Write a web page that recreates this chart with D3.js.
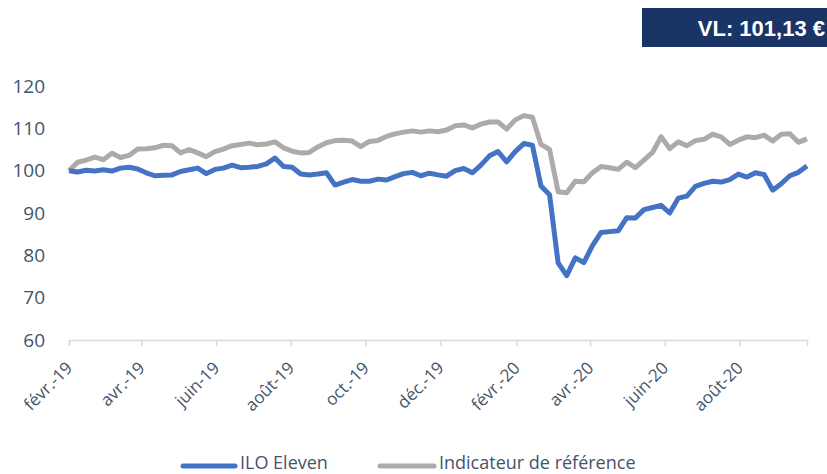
<!DOCTYPE html>
<html>
<head>
<meta charset="utf-8">
<script src="https://cdnjs.cloudflare.com/ajax/libs/d3/7.8.5/d3.min.js"></script>
<style>
  body { margin: 0; background: #fff; }
  text { font-family: 'Open Sans', sans-serif; }
</style>
</head>
<body>
<div id="chart"></div>
<script>
// weekly dates (Fridays)
const dates = [
  '2019-02-01','2019-02-08','2019-02-15','2019-02-22','2019-03-01','2019-03-08','2019-03-15','2019-03-22','2019-03-29',
  '2019-04-05','2019-04-12','2019-04-19','2019-04-26','2019-05-03','2019-05-10','2019-05-17','2019-05-24','2019-05-31',
  '2019-06-07','2019-06-14','2019-06-21','2019-06-28','2019-07-05','2019-07-12','2019-07-19','2019-07-26',
  '2019-08-02','2019-08-09','2019-08-16','2019-08-23','2019-08-30','2019-09-06','2019-09-13','2019-09-20','2019-09-27',
  '2019-10-04','2019-10-11','2019-10-18','2019-10-25','2019-11-01','2019-11-08','2019-11-15','2019-11-22','2019-11-29',
  '2019-12-06','2019-12-13','2019-12-20','2019-12-27','2020-01-03','2020-01-10','2020-01-17','2020-01-24','2020-01-31',
  '2020-02-07','2020-02-14','2020-02-21','2020-02-28','2020-03-06','2020-03-13','2020-03-20','2020-03-27',
  '2020-04-03','2020-04-10','2020-04-17','2020-04-24','2020-05-01','2020-05-08','2020-05-15','2020-05-22','2020-05-29',
  '2020-06-05','2020-06-12','2020-06-19','2020-06-26','2020-07-03','2020-07-10','2020-07-17','2020-07-24','2020-07-31',
  '2020-08-07','2020-08-14','2020-08-21','2020-08-28','2020-09-04','2020-09-11','2020-09-18','2020-09-25'
]

const iloEleven = [
  100.0, 99.7, 100.1, 99.9, 100.2, 99.9, 100.6, 100.8, 100.4,
  99.5, 98.8, 98.9, 99.0, 99.8, 100.2, 100.6, 99.3, 100.3,
  100.6, 101.3, 100.7, 100.8, 101.0, 101.6, 103.0, 101.0,
  100.8, 99.2, 99.0, 99.2, 99.5, 96.6, 97.3, 97.9, 97.5,
  97.5, 98.0, 97.8, 98.6, 99.3, 99.6, 98.8, 99.4, 99.0,
  98.7, 100.0, 100.5, 99.5, 101.3, 103.5, 104.5, 102.1, 104.5,
  106.4, 106.0, 96.4, 94.3, 78.2, 75.2, 79.4, 78.3,
  82.3, 85.4, 85.6, 85.8, 88.9, 88.8, 90.8, 91.3, 91.8,
  90.0, 93.5, 94.0, 96.3, 97.0, 97.5, 97.3, 97.9, 99.2,
  98.5, 99.5, 99.1, 95.4, 96.9, 98.8, 99.6, 101.13
]

const indicateur = [
  100.0, 102.0, 102.5, 103.2, 102.6, 104.1, 103.1, 103.6, 105.1,
  105.2, 105.4, 106.0, 105.9, 104.2, 105.0, 104.2, 103.3, 104.5,
  105.1, 105.9, 106.2, 106.5, 106.1, 106.3, 106.8, 105.4,
  104.6, 104.2, 104.3, 105.6, 106.6, 107.1, 107.2, 107.0, 105.7,
  106.9, 107.1, 108.1, 108.7, 109.1, 109.4, 109.1, 109.4, 109.2,
  109.6, 110.6, 110.8, 110.1, 111.0, 111.5, 111.5, 109.8, 112.0,
  113.0, 112.6, 106.2, 105.0, 95.0, 94.8, 97.5, 97.4,
  99.5, 101.0, 100.7, 100.3, 102.0, 100.7, 102.5, 104.3, 108.0,
  105.2, 106.8, 105.9, 107.1, 107.4, 108.6, 108.0, 106.2, 107.2,
  108.0, 107.8, 108.4, 107.0, 108.6, 108.7, 106.7, 107.5
]

const tickDates = ['2019-02-01','2019-04-01','2019-06-01','2019-08-01','2019-10-01','2019-12-01',
                   '2020-02-01','2020-04-01','2020-06-01','2020-08-01']
const tickLabels = ['févr.-19','avr.-19','juin-19','août-19','oct.-19','déc.-19',
                    'févr.-20','avr.-20','juin-20','août-20']
const yTicks = [60, 70, 80, 90, 100, 110, 120]
const seriesNames = ['ILO Eleven', 'Indicateur de référence']
const headerText = 'VL: 101,13 €'

const W = 827, H = 474
const textColor = '#44546A'
const colors = ['#4472C4', '#AEAAAA']
const parse = d3.timeParse('%Y-%m-%d')

const svg = d3.select('#chart').append('svg')
    .attr('width', W)
    .attr('height', H)

const x = d3.scaleTime()
    .domain([parse(dates[0]), parse(dates[dates.length - 1])])
    .range([69, 807])
const y = d3.scaleLinear()
    .domain([60, 120])
    .range([340, 86])

// header box
svg.append('rect')
    .attr('x', 642).attr('y', 8)
    .attr('width', W - 642).attr('height', 39)
    .attr('fill', '#1B3466')
svg.append('text')
    .attr('x', 825).attr('y', 36)
    .attr('text-anchor', 'end')
    .attr('fill', '#fff')
    .style('font-family', "'Liberation Sans', Arial, sans-serif")
    .style('font-weight', 'bold')
    .style('font-size', '22px')
    .text(headerText)

// y axis labels
const yAxis = svg.append('g')
    .attr('transform', 'translate(47,0)')
    .call(d3.axisLeft(y).tickValues(yTicks).tickSize(0).tickPadding(2))
yAxis.select('.domain').remove()
yAxis.selectAll('text')
    .attr('fill', textColor)
    .style('font-family', "'Open Sans', sans-serif")
    .style('font-size', '19px')

// x axis
const xAxis = svg.append('g')
    .attr('transform', 'translate(0,340)')
    .call(d3.axisBottom(x)
        .tickValues(tickDates.map(parse))
        .tickFormat((d, i) => tickLabels[i])
        .tickSizeOuter(0)
        .tickSize(6))
xAxis.select('.domain').attr('stroke', '#D9D9D9').attr('stroke-width', 1.5)
xAxis.selectAll('.tick line').attr('stroke', '#D9D9D9').attr('stroke-width', 1.5)
xAxis.selectAll('.tick text')
    .attr('fill', textColor)
    .style('font-family', "'Open Sans', sans-serif")
    .style('font-size', '17px')
    .attr('text-anchor', 'end')
    .attr('dy', null)
    .attr('y', 0)
    .attr('transform', 'translate(4,29) rotate(-45)')

// lines
const series = [iloEleven, indicateur]
const line = d3.line()
    .x((d, i) => x(parse(dates[i])))
    .y(d => y(d))

// grey drawn first, blue on top
;[1, 0].forEach(s => {
    svg.append('path')
        .datum(series[s])
        .attr('fill', 'none')
        .attr('stroke', colors[s])
        .attr('stroke-width', 5)
        .attr('stroke-linejoin', 'round')
        .attr('d', line)
})

// legend
const legendPos = [[183, 240], [380, 439]]
seriesNames.forEach((name, i) => {
    const g = svg.append('g')
    g.append('line')
        .attr('x1', legendPos[i][0]).attr('x2', legendPos[i][1] - 5)
        .attr('y1', 466).attr('y2', 466)
        .attr('stroke', colors[i])
        .attr('stroke-width', 5)
        .attr('stroke-linecap', 'round')
    g.append('text')
        .attr('x', legendPos[i][1]).attr('y', 469)
        .attr('fill', textColor)
        .style('font-size', '18px')
        .text(name)
})
</script>
</body>
</html>
